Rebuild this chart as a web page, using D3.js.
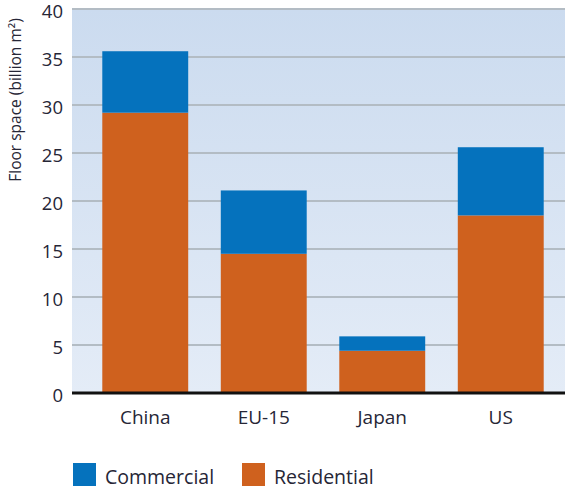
<!DOCTYPE html>
<html>
<head>
<meta charset="utf-8">
<script src="https://cdn.jsdelivr.net/npm/d3@7"></script>
<style>
  body { margin: 0; background: #fff; }
  svg { display: block; font-family: "Open Sans", "Noto Sans", sans-serif; }
</style>
</head>
<body>
<svg width="565" height="489"></svg>
<script>
var regions = ["China", "EU-15", "Japan", "US"];
var residential = [29.2, 14.5, 4.4, 18.5];
var commercial = [6.4, 6.6, 1.5, 7.1];
var yTicks = [0, 5, 10, 15, 20, 25, 30, 35, 40];
var seriesNames = ["Commercial", "Residential"];

var colors = {Commercial: "#0572bd", Residential: "#cf611e"};
var textColor = "#262636";

var svg = d3.select("svg");
var plot = {left: 72, right: 565, top: 9, bottom: 393};

var data = regions.map(function(r, i) {
  return {region: r, Residential: residential[i], Commercial: commercial[i]};
});

var x = d3.scaleBand().domain(regions).range([86, 560]).paddingInner(0.275).paddingOuter(0.1375);
var y = d3.scaleLinear().domain([0, 40]).range([plot.bottom, plot.top]);

// background gradient
var defs = svg.append("defs");
var grad = defs.append("linearGradient").attr("id", "bg").attr("x1", 0).attr("y1", 0).attr("x2", 0).attr("y2", 1);
grad.append("stop").attr("offset", "0%").attr("stop-color", "#cbdbef");
grad.append("stop").attr("offset", "100%").attr("stop-color", "#e4ecf7");

svg.append("rect")
  .attr("x", plot.left).attr("y", plot.top)
  .attr("width", plot.right - plot.left).attr("height", plot.bottom - plot.top)
  .attr("fill", "url(#bg)");

// gridlines
svg.append("g")
  .selectAll("line")
  .data(yTicks.slice(1))
  .join("line")
  .attr("x1", plot.left).attr("x2", plot.right)
  .attr("y1", d => y(d)).attr("y2", d => y(d))
  .attr("stroke", "#b3bcc4").attr("stroke-width", 2);

// stacked bars
var stack = d3.stack().keys(["Residential", "Commercial"]);
svg.append("g")
  .selectAll("g")
  .data(stack(data))
  .join("g")
  .attr("fill", d => colors[d.key])
  .selectAll("rect")
  .data(d => d)
  .join("rect")
  .attr("x", d => x(d.data.region))
  .attr("width", x.bandwidth())
  .attr("y", d => y(d[1]))
  .attr("height", d => y(d[0]) - y(d[1]));

// baseline
svg.append("line")
  .attr("x1", plot.left).attr("x2", plot.right)
  .attr("y1", y(0)).attr("y2", y(0))
  .attr("stroke", "#111").attr("stroke-width", 3);

// y axis labels
var yAxis = svg.append("g")
  .attr("transform", "translate(" + (plot.left - 9) + ",3)")
  .call(d3.axisLeft(y).tickValues(yTicks).tickSize(0).tickPadding(0));
yAxis.select(".domain").remove();
yAxis.selectAll("text")
  .attr("font-size", 18.5).attr("fill", textColor)
  .attr("font-family", "'Open Sans', sans-serif");

// x axis labels
var xAxis = svg.append("g")
  .attr("transform", "translate(0," + y(0) + ")")
  .call(d3.axisBottom(x).tickSize(0).tickPadding(18));
xAxis.select(".domain").remove();
xAxis.selectAll("text")
  .attr("font-size", 19).attr("fill", textColor)
  .attr("font-family", "'Open Sans', sans-serif");

// y axis title
svg.append("text")
  .attr("transform", "translate(21,100) rotate(-90)")
  .attr("text-anchor", "middle")
  .attr("font-size", 15.5)
  .attr("fill", textColor)
  .text("Floor space (billion m²)");

// legend
var legendX = [73, 242];
var legend = svg.append("g")
  .selectAll("g")
  .data(seriesNames)
  .join("g")
  .attr("transform", (d, i) => "translate(" + legendX[i] + ",463)");
legend.append("rect")
  .attr("width", 23).attr("height", 23)
  .attr("fill", d => colors[d]);
legend.append("text")
  .attr("x", 32).attr("y", 21)
  .attr("font-size", 19.5)
  .attr("fill", textColor)
  .text(d => d);
</script>
</body>
</html>
